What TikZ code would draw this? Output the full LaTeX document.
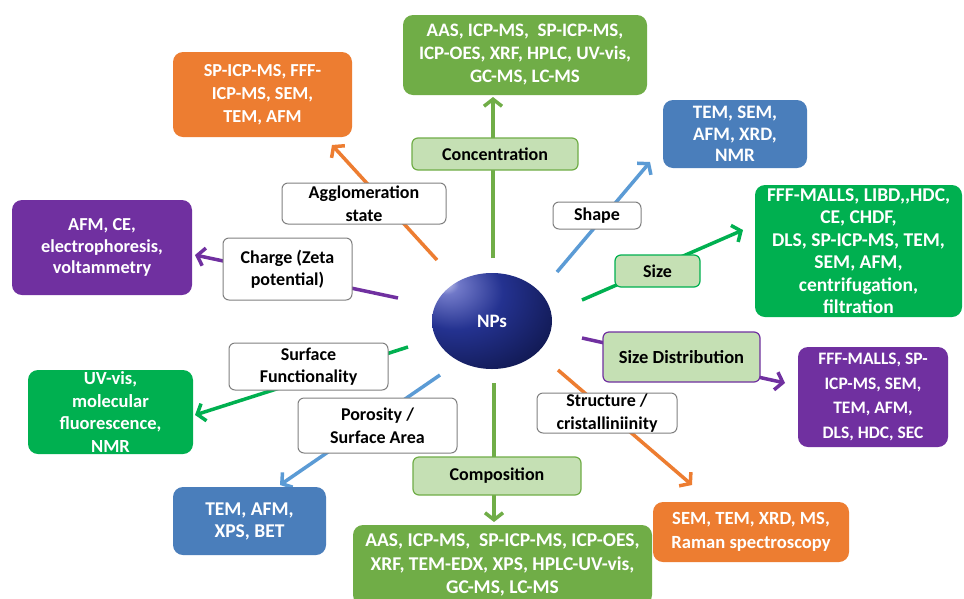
\documentclass[tikz,border=0pt]{standalone}
\usepackage{fontspec}
\setmainfont{Carlito}
\usetikzlibrary{arrows.meta,shapes.geometric}
\definecolor{cOrange}{HTML}{ED7D31}
\definecolor{cOlive}{HTML}{70AD47}
\definecolor{cGreen}{HTML}{00B050}
\definecolor{cBlue}{HTML}{4A7EBB}
\definecolor{cBlueLine}{HTML}{5B9BD5}
\definecolor{cPurple}{HTML}{7030A0}
\definecolor{cLight}{HTML}{C5E0B4}
\definecolor{cGray}{HTML}{808080}
\definecolor{npHi}{HTML}{C8CCF0}
\definecolor{npHi2}{HTML}{7078C8}
\definecolor{npMid}{HTML}{243290}
\definecolor{npDeep}{HTML}{0E1548}
\definecolor{npDark}{HTML}{02020A}
\pgfdeclareradialshading{npball}{\pgfpoint{-20bp}{20bp}}{color(0bp)=(npHi); color(5bp)=(npHi2); color(20bp)=(npMid); color(45bp)=(npDeep); color(65bp)=(npDark); color(90bp)=(npDark)}
\begin{document}
\begin{tikzpicture}[x=1pt,y=-1pt,
  txt/.style={font=\bfseries\fontsize{18}{22.5}\selectfont, align=center, inner sep=0pt},
  fs/.style 2 args={font=\bfseries\fontsize{#1}{#2}\selectfont},
  result/.style={txt, text=white, fill=#1, rounded corners=10pt},
  lbl/.style={txt, text=black, fill=white, draw=cGray, line width=1pt, rounded corners=6pt},
  glbl/.style={txt, text=black, fill=cLight, draw=#1, line width=1.2pt, rounded corners=6pt},
  conn/.style={draw=#1, line width=3.5pt, -{Straight Barb[length=7pt,width=18pt]}}]
\clip (0,0) rectangle (964,598);
\fill[white] (0,0) rectangle (964,598);

% start / end coordinates of connectors
\coordinate (sConc) at (493,258);   \coordinate (eConc) at (493,97);
\coordinate (sAggl) at (437,260);   \coordinate (eAggl) at (332,145);
\coordinate (sCharge) at (398,298); \coordinate (eCharge) at (195,255);
\coordinate (sShape) at (557,272);  \coordinate (eShape) at (650,162);
\coordinate (sSize) at (582,300);   \coordinate (eSize) at (743,230);
\coordinate (sSizeD) at (582,338);  \coordinate (eSizeD) at (785,383);
\coordinate (sStruct) at (558,370); \coordinate (eStruct) at (692,485);
\coordinate (sComp) at (494,383);   \coordinate (eComp) at (494,522);
\coordinate (sSurf) at (408,347);   \coordinate (eSurf) at (195,415);
\coordinate (sPor) at (440,375);    \coordinate (ePor) at (280,485);

\draw[conn=cOlive] (sConc) -- (eConc);
\draw[conn=cOrange] (sAggl) -- (eAggl);
\draw[conn=cPurple] (sCharge) -- (eCharge);
\draw[conn=cBlueLine] (sShape) -- (eShape);
\draw[conn=cGreen] (sSize) -- (eSize);
\draw[conn=cPurple] (sSizeD) -- (eSizeD);
\draw[conn=cOrange] (sStruct) -- (eStruct);
\draw[conn=cOlive] (sComp) -- (eComp);
\draw[conn=cGreen] (sSurf) -- (eSurf);
\draw[conn=cBlueLine] (sPor) -- (ePor);

% labels
\node[glbl=cOlive, minimum width=166pt, minimum height=32pt] (lConc) at (495,154) {Concentration};
\node[lbl, minimum width=164pt, minimum height=41pt] (lAggl) at (364,203.5) {Agglomeration\\state};
\node[lbl, minimum width=129pt, minimum height=62pt] (lCharge) at (287.5,269) {Charge (Zeta\\potential)};
\node[lbl, minimum width=88pt, minimum height=27pt] (lShape) at (597,215.5) {Shape};
\node[glbl=cGreen, minimum width=85pt, minimum height=32pt] (lSize) at (657.5,271) {Size};
\node[glbl=cPurple, fs={18.5}{22}, minimum width=157pt, minimum height=50pt] (lSizeD) at (681.5,357) {Size Distribution};
\node[lbl, minimum width=140pt, minimum height=40pt] (lStruct) at (607,413) {Structure /\\cristalliniinity};
\node[glbl=cOlive, minimum width=168pt, minimum height=38pt] (lComp) at (497,476) {Composition};
\node[lbl, minimum width=159pt, minimum height=47pt] (lSurf) at (308.5,366.5) {Surface\\Functionality};
\node[lbl, minimum width=159pt, minimum height=55pt] (lPor) at (377.5,425.5) {Porosity /\\Surface Area};

% results
\node[result=cOlive, fs={19}{23}, minimum width=244pt, minimum height=80pt] (rConc) at (525,55) {AAS, ICP-MS,\ \ SP-ICP-MS,\\ICP-OES, XRF, HPLC, UV-vis,\\GC-MS, LC-MS};
\node[result=cOrange, fs={18.3}{23}, minimum width=179pt, minimum height=85pt] (rAggl) at (262.5,94.5) {SP-ICP-MS, FFF-\\ICP-MS, SEM,\\TEM, AFM};
\node[result=cPurple, fs={18.3}{21.5}, minimum width=180pt, minimum height=95pt] (rCharge) at (102,247.5) {AFM, CE,\\electrophoresis,\\voltammetry};
\node[result=cBlue, fs={19}{21.5}, minimum width=144pt, minimum height=68pt] (rShape) at (735,134) {TEM, SEM,\\AFM, XRD,\\NMR};
\node[result=cGreen, fs={19.5}{22.5}, minimum width=207pt, minimum height=132pt] (rSize) at (858.5,251) {FFF-MALLS, LIBD,{},HDC,\\CE, CHDF,\\DLS, SP-ICP-MS, TEM,\\SEM, AFM,\\centrifugation,\\filtration};
\node[result=cPurple, fs={17.5}{24.5}, minimum width=150pt, minimum height=100pt] (rSizeD) at (873,397) {FFF-MALLS, SP-\\ICP-MS, SEM,\\TEM, AFM,\\DLS, HDC, SEC};
\node[result=cOrange, fs={18.6}{24}, minimum width=196pt, minimum height=60pt] (rStruct) at (751,532) {SEM, TEM, XRD, MS,\\Raman spectroscopy};
\node[result=cOlive, fs={19.5}{23.5}, minimum width=299pt, minimum height=80pt] (rComp) at (502.5,565) {AAS, ICP-MS,\ \ SP-ICP-MS, ICP-OES,\\XRF, TEM-EDX, XPS, HPLC-UV-vis,\\GC-MS, LC-MS};
\node[result=cGreen, fs={18.5}{22.5}, minimum width=165pt, minimum height=84pt] (rSurf) at (110.5,412) {UV-vis,\\molecular\\fluorescence,\\NMR};
\node[result=cBlue, fs={19.5}{22}, minimum width=153pt, minimum height=68pt] (rPor) at (249.5,521) {TEM, AFM,\\XPS, BET};

% central sphere
\node[ellipse, shading=npball, minimum width=120pt, minimum height=96pt, inner sep=0pt,
      text=white, font=\bfseries\fontsize{19}{22}\selectfont] (np) at (492,321) {NPs};
\end{tikzpicture}
\end{document}
